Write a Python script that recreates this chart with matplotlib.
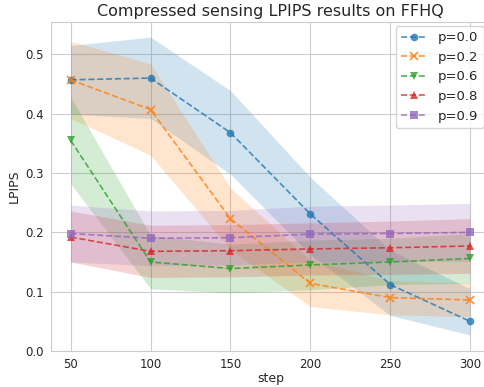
import matplotlib
matplotlib.use("Agg")
import matplotlib.pyplot as plt
import seaborn as sns

sns.set_style("whitegrid")
plt.rcParams['font.family'] = ['DejaVu Sans']

steps = [50, 100, 150, 200, 250, 300]
labels = ["p=0.0", "p=0.2", "p=0.6", "p=0.8", "p=0.9"]
markers = ["o", "x", "v", "^", "s"]
colors = ["#1f77b4", "#ff7f0e", "#2ca02c", "#d62728", "#9467bd"]

mean_p00 = [0.457, 0.460, 0.368, 0.231, 0.112, 0.050]
low_p00 = [0.399, 0.392, 0.298, 0.163, 0.060, 0.027]
high_p00 = [0.515, 0.529, 0.439, 0.293, 0.170, 0.105]

mean_p02 = [0.457, 0.407, 0.223, 0.114, 0.090, 0.086]
low_p02 = [0.392, 0.330, 0.171, 0.075, 0.061, 0.058]
high_p02 = [0.522, 0.484, 0.275, 0.153, 0.119, 0.114]

mean_p06 = [0.355, 0.150, 0.139, 0.145, 0.150, 0.156]
low_p06 = [0.282, 0.105, 0.098, 0.103, 0.112, 0.114]
high_p06 = [0.428, 0.195, 0.180, 0.187, 0.190, 0.198]

mean_p08 = [0.192, 0.168, 0.169, 0.172, 0.174, 0.177]
low_p08 = [0.150, 0.124, 0.125, 0.128, 0.129, 0.131]
high_p08 = [0.236, 0.212, 0.213, 0.216, 0.219, 0.223]

mean_p09 = [0.198, 0.190, 0.191, 0.197, 0.198, 0.200]
low_p09 = [0.150, 0.144, 0.145, 0.150, 0.151, 0.151]
high_p09 = [0.246, 0.236, 0.237, 0.244, 0.246, 0.249]

means = [mean_p00, mean_p02, mean_p06, mean_p08, mean_p09]
lows = [low_p00, low_p02, low_p06, low_p08, low_p09]
highs = [high_p00, high_p02, high_p06, high_p08, high_p09]

fig = plt.figure(figsize=(4.84, 3.87), dpi=100)
ax = fig.add_axes([50.7 / 484, 36 / 387, (490 - 50.7) / 484, (351 - 21.7) / 387])

for lab, mk, c, m, lo, hi in zip(labels, markers, colors, means, lows, highs):
    ax.fill_between(steps, lo, hi, color=c, alpha=0.2, linewidth=0)
    ax.plot(steps, m, linestyle="--", marker=mk, color=c, label=lab, alpha=0.8,
            linewidth=1.2, markersize=5.5,
            markeredgewidth=1.3 if mk == "x" else 0.0)

ax.set_xlim(37.5, 312.5)
ax.set_ylim(0, 0.555)
ax.set_xticks(steps)
ax.set_yticks([0.0, 0.1, 0.2, 0.3, 0.4, 0.5])
ax.tick_params(labelsize=8.5, pad=1.5)
ax.set_xlabel("step", fontsize=9.0, labelpad=1)
ax.set_ylabel("LPIPS", fontsize=9.0, labelpad=3)
ax.set_title("Compressed sensing LPIPS results on FFHQ", fontsize=11.5, pad=4)

leg = ax.legend(loc="upper right", bbox_to_anchor=(483.5 / 484, 1 - 26 / 387),
                bbox_transform=fig.transFigure, borderaxespad=0, fontsize=9.5,
                framealpha=0.8)

fig.savefig("out.png", dpi=100)
